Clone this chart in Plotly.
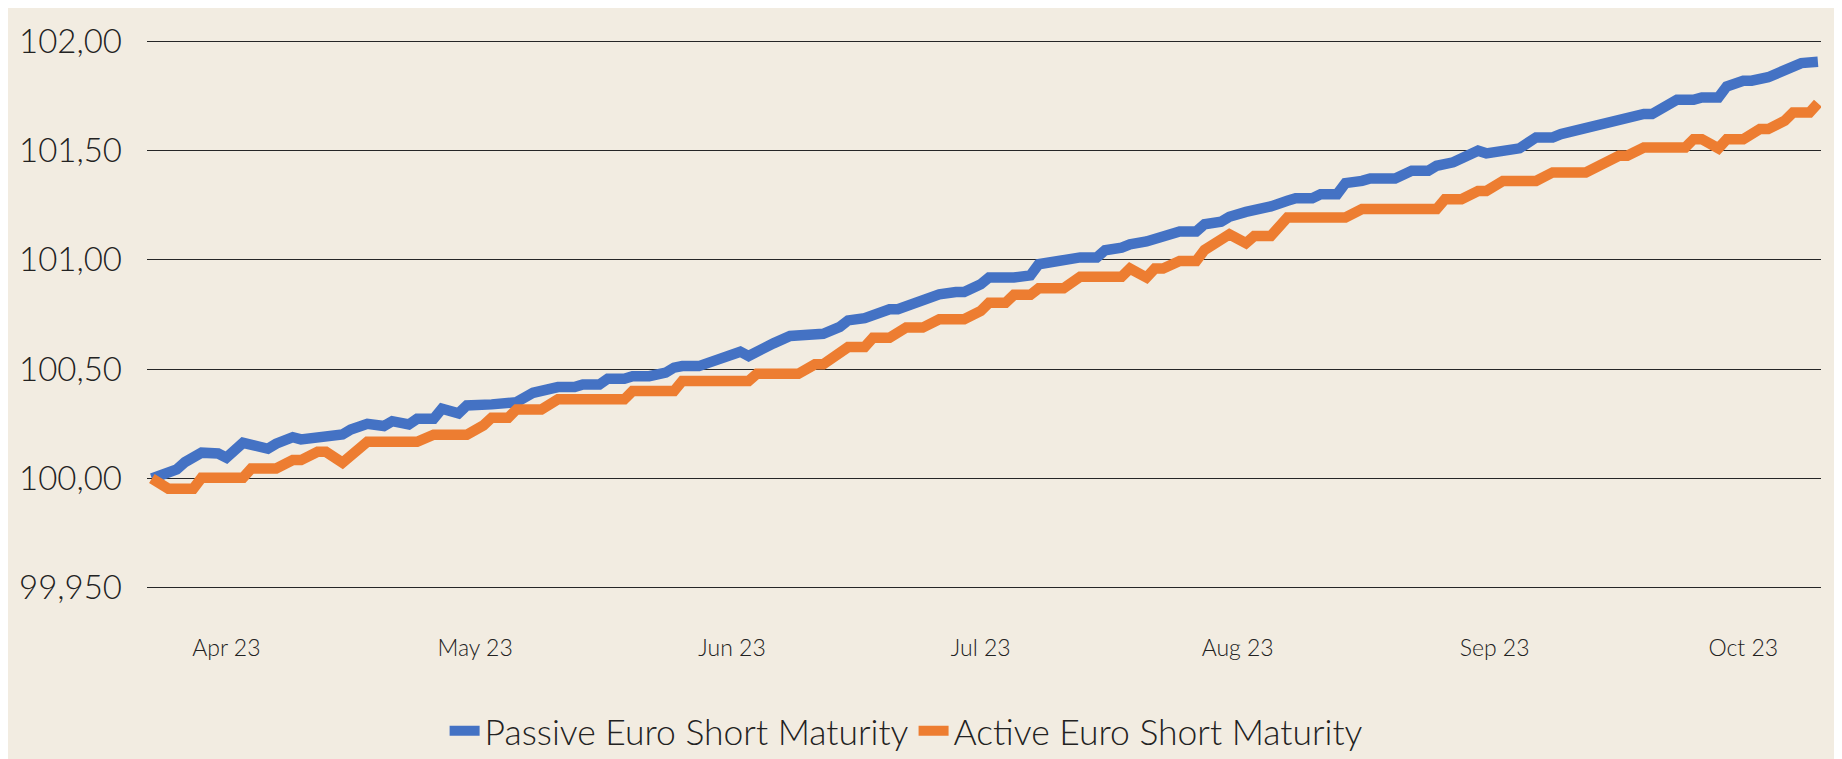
import plotly.graph_objects as go

# ---- data ----
passive_dates = [
    "2023-03-23", "2023-03-26", "2023-03-27", "2023-03-29", "2023-03-31", "2023-04-01",
    "2023-04-03", "2023-04-04", "2023-04-06", "2023-04-07", "2023-04-09", "2023-04-10",
    "2023-04-12", "2023-04-13", "2023-04-15", "2023-04-16", "2023-04-18", "2023-04-20",
    "2023-04-21", "2023-04-23", "2023-04-24", "2023-04-26", "2023-04-27", "2023-04-29",
    "2023-04-30", "2023-05-03", "2023-05-05", "2023-05-06", "2023-05-08", "2023-05-09",
    "2023-05-11", "2023-05-13", "2023-05-14", "2023-05-16", "2023-05-17", "2023-05-19",
    "2023-05-20", "2023-05-22", "2023-05-24", "2023-05-25", "2023-05-26", "2023-05-28",
    "2023-05-30", "2023-06-02", "2023-06-03", "2023-06-05", "2023-06-06", "2023-06-08",
    "2023-06-09", "2023-06-11", "2023-06-12", "2023-06-14", "2023-06-15", "2023-06-17",
    "2023-06-18", "2023-06-20", "2023-06-21", "2023-06-23", "2023-06-25", "2023-06-26",
    "2023-06-28", "2023-06-29", "2023-07-01", "2023-07-02", "2023-07-05", "2023-07-07",
    "2023-07-08", "2023-07-10", "2023-07-12", "2023-07-13", "2023-07-15", "2023-07-16",
    "2023-07-18", "2023-07-19", "2023-07-21", "2023-07-22", "2023-07-24", "2023-07-25",
    "2023-07-27", "2023-07-28", "2023-07-30", "2023-07-31", "2023-08-02", "2023-08-04",
    "2023-08-05", "2023-08-07", "2023-08-08", "2023-08-10", "2023-08-11", "2023-08-13",
    "2023-08-14", "2023-08-16", "2023-08-17", "2023-08-20", "2023-08-22", "2023-08-24",
    "2023-08-25", "2023-08-27", "2023-08-28", "2023-08-30", "2023-08-31", "2023-09-02",
    "2023-09-04", "2023-09-06", "2023-09-08", "2023-09-09", "2023-09-11", "2023-09-12",
    "2023-09-15", "2023-09-17", "2023-09-19", "2023-09-20", "2023-09-22", "2023-09-23",
    "2023-09-25", "2023-09-26", "2023-09-28", "2023-09-29", "2023-10-01", "2023-10-02",
    "2023-10-04", "2023-10-05", "2023-10-07", "2023-10-08", "2023-10-10",
]
passive_values = [
    100.000, 100.041, 100.075, 100.118, 100.114, 100.095,
    100.163, 100.151, 100.136, 100.159, 100.189, 100.179,
    100.186, 100.186, 100.201, 100.224, 100.250, 100.240,
    100.262, 100.247, 100.273, 100.273, 100.319, 100.298,
    100.334, 100.339, 100.349, 100.349, 100.392, 100.404,
    100.418, 100.418, 100.430, 100.430, 100.456, 100.456,
    100.468, 100.468, 100.484, 100.507, 100.514, 100.514,
    100.545, 100.580, 100.560, 100.606, 100.618, 100.652,
    100.652, 100.662, 100.662, 100.693, 100.723, 100.733,
    100.748, 100.774, 100.774, 100.804, 100.830, 100.842,
    100.853, 100.853, 100.888, 100.919, 100.919, 100.929,
    100.980, 100.995, 100.998, 101.011, 101.011, 101.044,
    101.056, 101.071, 101.084, 101.098, 101.120, 101.130,
    101.130, 101.163, 101.174, 101.197, 101.219, 101.232,
    101.244, 101.270, 101.282, 101.282, 101.300, 101.300,
    101.351, 101.361, 101.372, 101.372, 101.407, 101.407,
    101.430, 101.446, 101.468, 101.499, 101.487, 101.502,
    101.510, 101.560, 101.560, 101.575, 101.595, 101.595,
    101.632, 101.652, 101.667, 101.667, 101.708, 101.732,
    101.732, 101.743, 101.743, 101.793, 101.819, 101.819,
    101.835, 101.850, 101.888, 101.900, 101.906,
]

active_dates = [
    "2023-03-23", "2023-03-25", "2023-03-28", "2023-03-29", "2023-04-03", "2023-04-04",
    "2023-04-07", "2023-04-09", "2023-04-10", "2023-04-12", "2023-04-13", "2023-04-15",
    "2023-04-18", "2023-04-24", "2023-04-26", "2023-04-30", "2023-05-02", "2023-05-03",
    "2023-05-05", "2023-05-06", "2023-05-09", "2023-05-11", "2023-05-19", "2023-05-20",
    "2023-05-25", "2023-05-26", "2023-06-03", "2023-06-04", "2023-06-09", "2023-06-11",
    "2023-06-12", "2023-06-14", "2023-06-15", "2023-06-17", "2023-06-18", "2023-06-20",
    "2023-06-22", "2023-06-24", "2023-06-26", "2023-06-29", "2023-07-01", "2023-07-02",
    "2023-07-04", "2023-07-05", "2023-07-07", "2023-07-08", "2023-07-11", "2023-07-13",
    "2023-07-18", "2023-07-19", "2023-07-21", "2023-07-22", "2023-07-23", "2023-07-25",
    "2023-07-27", "2023-07-28", "2023-07-31", "2023-08-02", "2023-08-03", "2023-08-05",
    "2023-08-07", "2023-08-14", "2023-08-16", "2023-08-25", "2023-08-26", "2023-08-28",
    "2023-08-30", "2023-08-31", "2023-09-02", "2023-09-06", "2023-09-08", "2023-09-12",
    "2023-09-16", "2023-09-17", "2023-09-19", "2023-09-24", "2023-09-25", "2023-09-26",
    "2023-09-28", "2023-09-29", "2023-10-01", "2023-10-03", "2023-10-04", "2023-10-06",
    "2023-10-07", "2023-10-09", "2023-10-10",
]
active_values = [
    100.000, 99.953, 99.953, 100.003, 100.003, 100.046,
    100.046, 100.084, 100.084, 100.122, 100.122, 100.072,
    100.168, 100.168, 100.200, 100.200, 100.243, 100.278,
    100.278, 100.316, 100.316, 100.362, 100.362, 100.400,
    100.400, 100.446, 100.446, 100.479, 100.479, 100.522,
    100.522, 100.568, 100.601, 100.601, 100.644, 100.644,
    100.690, 100.690, 100.728, 100.728, 100.766, 100.804,
    100.804, 100.840, 100.840, 100.870, 100.870, 100.923,
    100.923, 100.960, 100.919, 100.960, 100.960, 100.995,
    100.995, 101.045, 101.117, 101.076, 101.109, 101.109,
    101.194, 101.194, 101.232, 101.232, 101.277, 101.277,
    101.315, 101.315, 101.361, 101.361, 101.400, 101.400,
    101.476, 101.476, 101.514, 101.514, 101.552, 101.552,
    101.510, 101.552, 101.552, 101.598, 101.598, 101.636,
    101.674, 101.674, 101.716,
]

series_names = ["Passive Euro Short Maturity", "Active Euro Short Maturity"]
series_colors = ["#4472C4", "#ED7D31"]

month_ticks = ["2023-04-01", "2023-05-01", "2023-06-01", "2023-07-01",
               "2023-08-01", "2023-09-01", "2023-10-01"]
month_labels = ["Apr 23", "May 23", "Jun 23", "Jul 23", "Aug 23", "Sep 23", "Oct 23"]

y_ticks = [99.5, 100.0, 100.5, 101.0, 101.5, 102.0]
y_labels = ["99,950", "100,00", "100,50", "101,00", "101,50", "102,00"]

BG = "#F2ECE1"
FONT = "Lato"
TXT = "#222222"

fig = go.Figure()
fig.add_trace(go.Scatter(
    x=passive_dates, y=passive_values, mode="lines", name=series_names[0],
    line=dict(color=series_colors[0], width=10.5),
))
fig.add_trace(go.Scatter(
    x=active_dates, y=active_values, mode="lines", name=series_names[1],
    line=dict(color=series_colors[1], width=10.5),
))

# the page body adds an 8px offset, so the figure is 8px smaller than the window
fig.update_layout(
    width=1834, height=751,
    paper_bgcolor=BG, plot_bgcolor=BG,
    margin=dict(l=139, r=21, t=31, b=169, autoexpand=False),
    font=dict(family=FONT, color=TXT, weight=300),
    showlegend=True,
    legend=dict(
        orientation="h", xref="container", yref="container",
        x=0.4897, xanchor="center", y=0.037, yanchor="middle",
        font=dict(size=35.5, family=FONT, color=TXT, weight=300),
        bgcolor="rgba(0,0,0,0)", itemwidth=30, tracegroupgap=0,
    ),
    xaxis=dict(
        type="date", automargin=False,
        range=["2023-03-22 10:00", "2023-10-10 09:00"],
        tickvals=month_ticks, ticktext=month_labels,
        showgrid=False, zeroline=False, showline=False,
        ticks="", ticklabelstandoff=42,
        tickfont=dict(size=23, family=FONT, color=TXT, weight=300),
    ),
    yaxis=dict(
        automargin=False,
        range=[99.49, 102.01],
        tickvals=y_ticks, ticktext=y_labels,
        showgrid=True, gridcolor="#262626", gridwidth=1.3,
        zeroline=False, showline=False, ticks="",
        ticklabelstandoff=24,
        tickfont=dict(size=33, family=FONT, color=TXT, weight=300),
    ),
)

fig.write_html("out.html")
